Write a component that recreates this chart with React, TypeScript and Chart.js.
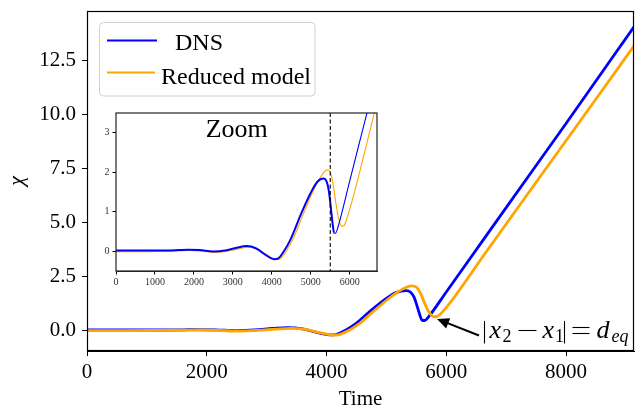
import React, { useEffect, useRef } from "react";
import { Chart, registerables } from "chart.js";

Chart.register(...registerables);

// ---- Data ----
const dnsTime = [0, 600, 1200, 1600, 1850, 2150, 2500, 2800, 3100, 3350, 3600, 3850, 4050, 4150, 4310, 4500, 4740, 5000, 5170, 5330, 5400, 5460, 5510, 5560, 5600, 5640, 5700, 6000, 6400, 7000, 8000, 9135];
const dnsChi = [0.02, 0.02, 0.02, 0.03, 0.04, 0.03, -0.005, 0.02, 0.09, 0.13, 0.07, -0.1, -0.2, -0.19, 0.0, 0.34, 0.92, 1.48, 1.76, 1.84, 1.78, 1.55, 1.15, 0.7, 0.46, 0.46, 0.62, 1.78, 3.34, 5.68, 9.57, 14.04];

const modelTime = [0, 600, 1200, 1600, 1900, 2200, 2550, 2850, 3150, 3400, 3650, 3900, 4100, 4200, 4370, 4560, 4800, 5050, 5230, 5420, 5500, 5570, 5640, 5710, 5790, 5850, 5950, 6150, 6632, 7500, 8500, 9135];
const modelChi = [-0.01, -0.01, 0.0, 0.01, 0.02, 0.0, -0.03, 0.0, 0.06, 0.1, 0.05, -0.11, -0.21, -0.2, 0.0, 0.34, 0.92, 1.5, 1.85, 2.06, 2.0, 1.72, 1.25, 0.85, 0.63, 0.65, 0.9, 1.6, 3.5, 6.85, 10.7, 13.16];

const mainXTicks = [0, 2000, 4000, 6000, 8000];
const mainYTicks = [0, 2.5, 5, 7.5, 10, 12.5];
const insetXTicks = [0, 1000, 2000, 3000, 4000, 5000, 6000];
const insetYTicks = [0, 1, 2, 3];
const zoomMarker = [5500];

const seriesLabels = ["DNS", "Reduced model"];

const BLUE = "#0000ff";
const ORANGE = "#ffa500";
const SERIF = '"Liberation Serif", "DejaVu Serif", serif';

function pts(t: number[], v: number[]) {
  return t.map((x, i) => ({ x, y: v[i] }));
}

function noPad(s: any) {
  s.paddingTop = 0;
  s.paddingBottom = 0;
  s.paddingLeft = 0;
  s.paddingRight = 0;
}

const mainFrame = {
  id: "mainFrame",
  afterDatasetsDraw(chart: any) {
    const { ctx, chartArea: a } = chart;
    ctx.save();
    ctx.strokeStyle = "#000";
    ctx.lineWidth = 1.2;
    ctx.strokeRect(Math.round(a.left) + 0.5, Math.round(a.top) + 0.5, Math.round(a.right - a.left) - 1, Math.round(a.bottom - a.top) - 1);
    ctx.restore();
  },
};

const legendBox = {
  id: "legendBox",
  afterDraw(chart: any) {
    const ctx = chart.ctx as CanvasRenderingContext2D;
    ctx.save();
    const x = 99.5, y = 22.5, w = 215.5, h = 73.5, r = 4;
    ctx.beginPath();
    ctx.moveTo(x + r, y);
    ctx.lineTo(x + w - r, y);
    ctx.arcTo(x + w, y, x + w, y + r, r);
    ctx.lineTo(x + w, y + h - r);
    ctx.arcTo(x + w, y + h, x + w - r, y + h, r);
    ctx.lineTo(x + r, y + h);
    ctx.arcTo(x, y + h, x, y + h - r, r);
    ctx.lineTo(x, y + r);
    ctx.arcTo(x, y, x + r, y, r);
    ctx.closePath();
    ctx.fillStyle = "rgba(255,255,255,0.8)";
    ctx.fill();
    ctx.strokeStyle = "#d0d0d0";
    ctx.lineWidth = 1;
    ctx.stroke();

    ctx.lineWidth = 2;
    ctx.strokeStyle = BLUE;
    ctx.beginPath();
    ctx.moveTo(107, 40.5);
    ctx.lineTo(157, 40.5);
    ctx.stroke();
    ctx.strokeStyle = ORANGE;
    ctx.beginPath();
    ctx.moveTo(107, 72.5);
    ctx.lineTo(155, 72.5);
    ctx.stroke();

    ctx.fillStyle = "#000";
    ctx.font = `24px ${SERIF}`;
    ctx.textBaseline = "alphabetic";
    ctx.textAlign = "left";
    ctx.fillText(seriesLabels[0], 175, 49.5);
    ctx.fillText(seriesLabels[1], 161, 83.5);
    ctx.restore();
  },
};

const annotation = {
  id: "annotation",
  afterDatasetsDraw(chart: any) {
    const ctx = chart.ctx as CanvasRenderingContext2D;
    ctx.save();
    // arrow
    const tail = { x: 479, y: 335.5 };
    const tip = { x: 437, y: 319 };
    const dx = tip.x - tail.x, dy = tip.y - tail.y;
    const L = Math.hypot(dx, dy);
    const ux = dx / L, uy = dy / L;
    const hl = 12, hw = 5.5;
    const bx = tip.x - ux * hl, by = tip.y - uy * hl;
    ctx.strokeStyle = "#000";
    ctx.fillStyle = "#000";
    ctx.lineWidth = 2;
    ctx.beginPath();
    ctx.moveTo(tail.x, tail.y);
    ctx.lineTo(bx + ux * 2, by + uy * 2);
    ctx.stroke();
    ctx.beginPath();
    ctx.moveTo(tip.x, tip.y);
    ctx.lineTo(bx - uy * hw, by + ux * hw);
    ctx.lineTo(bx + uy * hw, by - ux * hw);
    ctx.closePath();
    ctx.fill();

    // math text |x_2 - x_1| = d_eq
    const base = 338;
    const subBase = 342;
    ctx.textBaseline = "alphabetic";
    ctx.textAlign = "left";
    ctx.lineWidth = 1.1;
    const vbar = (x: number) => {
      ctx.beginPath();
      ctx.moveTo(x, 321);
      ctx.lineTo(x, 343.5);
      ctx.stroke();
    };
    const hbar = (x0: number, x1: number, y: number) => {
      ctx.beginPath();
      ctx.moveTo(x0, y);
      ctx.lineTo(x1, y);
      ctx.stroke();
    };
    vbar(484.5);
    ctx.font = `italic 26px ${SERIF}`;
    ctx.fillText("x", 489.5, base);
    ctx.font = `18px ${SERIF}`;
    ctx.fillText("2", 502.5, subBase);
    hbar(518.5, 536.5, 330.5);
    ctx.font = `italic 26px ${SERIF}`;
    ctx.fillText("x", 542.5, base);
    ctx.font = `18px ${SERIF}`;
    ctx.fillText("1", 555, subBase);
    vbar(564.5);
    hbar(572.5, 589.5, 327.5);
    hbar(572.5, 589.5, 333.5);
    ctx.font = `italic 26px ${SERIF}`;
    ctx.fillText("d", 596.5, base);
    ctx.font = `italic 18px ${SERIF}`;
    ctx.fillText("eq", 611.5, subBase);
    ctx.restore();
  },
};

const insetDecor = {
  id: "insetDecor",
  beforeDatasetsDraw(chart: any) {
    const { ctx, chartArea: a } = chart;
    ctx.save();
    ctx.fillStyle = "#fff";
    ctx.fillRect(a.left, a.top, a.right - a.left, a.bottom - a.top);
    ctx.restore();
  },
  afterDatasetsDraw(chart: any) {
    const { ctx, chartArea: a, scales } = chart;
    ctx.save();
    const xp = scales.x.getPixelForValue(zoomMarker[0]);
    ctx.strokeStyle = "#000";
    ctx.lineWidth = 1.1;
    ctx.setLineDash([4, 2.5]);
    ctx.beginPath();
    ctx.moveTo(xp, a.top);
    ctx.lineTo(xp, a.bottom);
    ctx.stroke();
    ctx.setLineDash([]);
    ctx.strokeStyle = "#222";
    ctx.lineWidth = 1.2;
    ctx.strokeRect(a.left, a.top, a.right - a.left, a.bottom - a.top);
    ctx.fillStyle = "#000";
    ctx.font = `26px ${SERIF}`;
    ctx.textAlign = "center";
    ctx.textBaseline = "alphabetic";
    ctx.fillText("Zoom", 146.7, 32.3);
    ctx.restore();
  },
};

export default function App() {
  const mainRef = useRef<HTMLCanvasElement>(null);
  const insetRef = useRef<HTMLCanvasElement>(null);

  useEffect(() => {
    const tickFont = { family: SERIF, size: 21 };
    const main = new Chart(mainRef.current as HTMLCanvasElement, {
      type: "line",
      data: {
        datasets: [
          {
            label: seriesLabels[1],
            data: pts(modelTime, modelChi),
            borderColor: ORANGE,
            borderWidth: 2.8,
            pointRadius: 0,
            cubicInterpolationMode: "monotone",
          },
          {
            label: seriesLabels[0],
            data: pts(dnsTime, dnsChi),
            borderColor: BLUE,
            borderWidth: 2.8,
            pointRadius: 0,
            cubicInterpolationMode: "monotone",
          },
        ],
      },
      options: {
        animation: false,
        responsive: false,
        events: [],
        layout: { padding: { top: 11, right: 8, left: 0, bottom: 0 } },
        plugins: { legend: { display: false }, tooltip: { enabled: false } },
        scales: {
          x: {
            type: "linear",
            min: 0,
            max: 9135,
            afterBuildTicks: (s: any) => {
              s.ticks = mainXTicks.map((v) => ({ value: v }));
            },
            afterFit: (s: any) => {
              s.height = 58;
              noPad(s);
            },
            ticks: { font: tickFont, color: "#000", padding: 4, maxRotation: 0, autoSkip: false, callback: (v: any) => String(v) },
            grid: { drawOnChartArea: false, tickLength: 5, color: "#000", lineWidth: 1 },
            border: { color: "#000", width: 1 },
            title: { display: true, text: "Time", font: tickFont, color: "#000", padding: { top: 0, bottom: -3 } },
          },
          y: {
            type: "linear",
            min: -0.95,
            max: 14.77,
            afterBuildTicks: (s: any) => {
              s.ticks = mainYTicks.map((v) => ({ value: v }));
            },
            afterFit: (s: any) => {
              s.width = 87;
              noPad(s);
            },
            ticks: { font: tickFont, color: "#000", padding: 6, autoSkip: false, callback: (v: any) => Number(v).toFixed(1) },
            grid: { drawOnChartArea: false, tickLength: 5, color: "#000", lineWidth: 1 },
            border: { color: "#000", width: 1 },
            title: { display: true, text: "\u03c7", font: { family: SERIF, size: 22, style: "italic" }, color: "#000", padding: { top: 4, bottom: 0 } },
          },
        },
      },
      plugins: [mainFrame, annotation, legendBox],
    } as any);

    const insetFont = { family: SERIF, size: 10 };
    const inset = new Chart(insetRef.current as HTMLCanvasElement, {
      type: "line",
      data: {
        datasets: [
          {
            label: seriesLabels[0],
            data: pts(dnsTime, dnsChi),
            borderColor: BLUE,
            borderWidth: 1.1,
            pointRadius: 0,
            cubicInterpolationMode: "monotone",
            segment: { borderWidth: (c: any) => (c.p0.parsed.x < 5600 ? 2 : 1.1) },
          },
          {
            label: seriesLabels[1],
            data: pts(modelTime, modelChi),
            borderColor: ORANGE,
            borderWidth: 1.1,
            pointRadius: 0,
            cubicInterpolationMode: "monotone",
          },
        ],
      },
      options: {
        animation: false,
        responsive: false,
        events: [],
        layout: { padding: { top: 8, right: 8, left: 0, bottom: 0 } },
        plugins: { legend: { display: false }, tooltip: { enabled: false } },
        scales: {
          x: {
            type: "linear",
            min: 0,
            max: 6700,
            afterBuildTicks: (s: any) => {
              s.ticks = insetXTicks.map((v) => ({ value: v }));
            },
            afterFit: (s: any) => {
              s.height = 24;
              noPad(s);
            },
            ticks: { font: insetFont, color: "#333", padding: 2, maxRotation: 0, autoSkip: false, callback: (v: any) => String(v) },
            grid: { drawOnChartArea: false, tickLength: 3.5, color: "#000", lineWidth: 1 },
            border: { color: "#222", width: 1 },
          },
          y: {
            type: "linear",
            min: -0.5,
            max: 3.5,
            afterBuildTicks: (s: any) => {
              s.ticks = insetYTicks.map((v) => ({ value: v }));
            },
            afterFit: (s: any) => {
              s.width = 26;
              noPad(s);
            },
            ticks: { font: insetFont, color: "#333", padding: 3, autoSkip: false, callback: (v: any) => String(v) },
            grid: { drawOnChartArea: false, tickLength: 3.5, color: "#000", lineWidth: 1 },
            border: { color: "#222", width: 1 },
          },
        },
      },
      plugins: [insetDecor],
    } as any);

    return () => {
      main.destroy();
      inset.destroy();
    };
  }, []);

  return (
    <div style={{ position: "fixed", left: 0, top: 0, width: 642, height: 409, background: "#fff" }}>
      <canvas ref={mainRef} width={642} height={409} style={{ position: "absolute", left: 0, top: 0, width: 642, height: 409 }} />
      <canvas ref={insetRef} width={295} height={190} style={{ position: "absolute", left: 90, top: 105, width: 295, height: 190 }} />
    </div>
  );
}
